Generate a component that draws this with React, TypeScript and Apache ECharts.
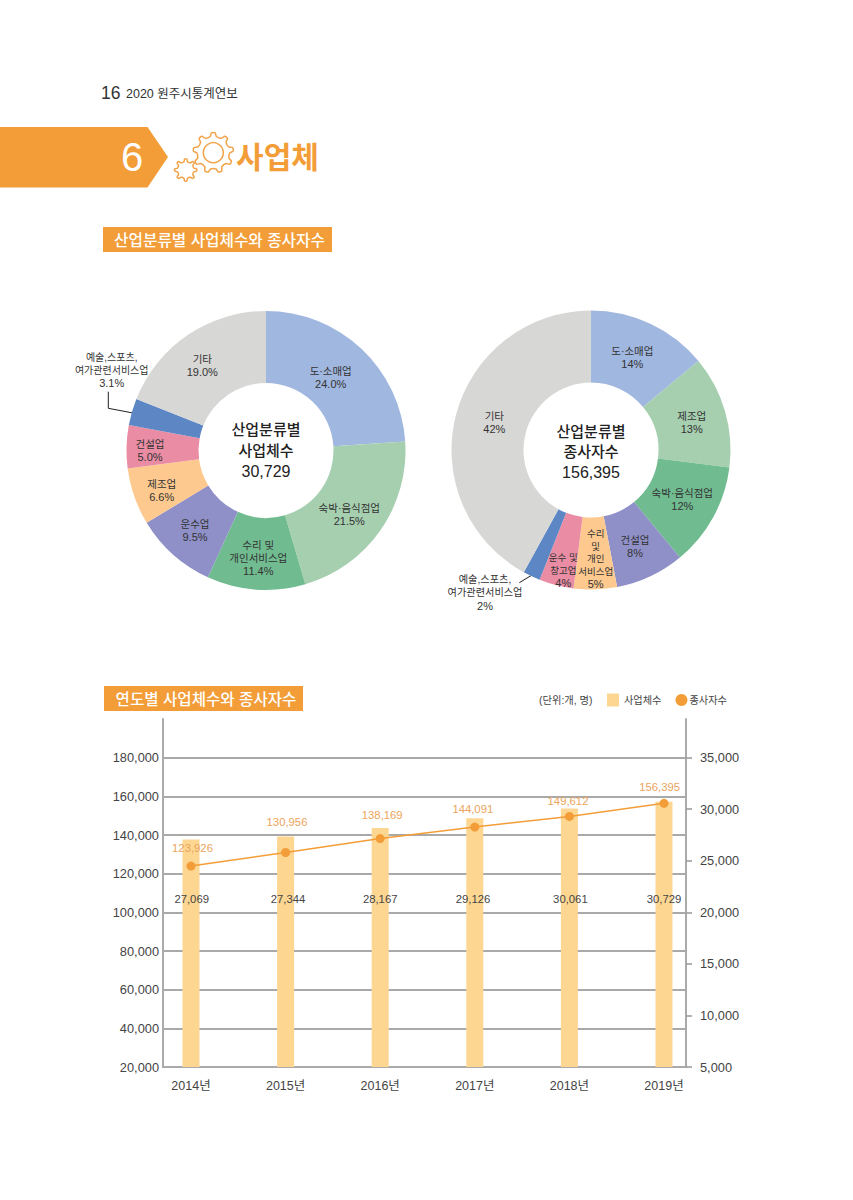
import React, { useEffect, useRef } from "react";
import * as echarts from "echarts";

const FONT = '"Liberation Sans", "Noto Sans CJK KR"';
const ORANGE = "#f29d38";

// Left donut
const bizNames = ["도·소매업", "숙박·음식점업", "수리 및\n개인서비스업", "운수업", "제조업", "건설업", "예술,스포츠,\n여가관련서비스업", "기타"];
const bizShares = [24.0, 21.5, 11.4, 9.5, 6.6, 5.0, 3.1, 19.0];
// Right donut
const workerNames = ["도·소매업", "제조업", "숙박·음식점업", "건설업", "수리\n및\n개인\n서비스업", "운수 및\n창고업", "예술,스포츠,\n여가관련서비스업", "기타"];
const workerShares = [14, 13, 12, 8, 5, 4, 2, 42];
const sliceColors = ["#a0b7df", "#a6cfb0", "#70bc90", "#8f90c8", "#fdc98e", "#e98ca4", "#5c86c4", "#d7d7d5"];

// Combo chart
const years = [2014, 2015, 2016, 2017, 2018, 2019];
const workers = [123926, 130956, 138169, 144091, 149612, 156395];
const businesses = [27069, 27344, 28167, 29126, 30061, 30729];
const rightTicks = [5000, 10000, 15000, 20000, 25000, 30000, 35000];

// Label anchors and nudges (layout only)
const bizLabelAt = [[330.7, 377.3], [349.3, 514], [258.3, 558.3], [195, 530.7], [161.7, 490.7], [150, 450], [111.7, 370], [202.3, 365.7]];
const workerLabelAt = [[632.3, 357.3], [691.7, 422.3], [682.3, 499], [635, 546], [595.7, 559], [563.3, 570], [485, 592.7], [494.3, 422.3]];
const lineLabelNudge = [[1.5, -1], [1.4, -13.5], [2, -6], [-2, -1], [-1.4, 2], [-4.4, 1]];
const barLabelNudge = [[0.7, 0], [2.4, 0], [0, 0], [-1.8, 0], [1, 0], [0, 0]];

function gear(cx: number, cy: number, n: number, R: number, r: number) {
  const pts: number[][] = [];
  const step = (Math.PI * 2) / n;
  for (let i = 0; i < n; i++) {
    const a = i * step - Math.PI / 2;
    [[-0.27, r], [-0.13, R], [0.13, R], [0.27, r]].forEach(([k, rad]) => {
      const t = a + k * step;
      pts.push([cx + rad * Math.cos(t), cy + rad * Math.sin(t)]);
    });
  }
  return pts;
}

function txt(text: string, x: number, y: number, fontSize: number, fill: string, align = "center", fontWeight: any = 400, lineHeight?: number) {
  return {
    type: "text", x, y, silent: true,
    style: { text, fontSize, fontWeight, fontFamily: FONT, fill, align, verticalAlign: "middle", textAlign: align, textVerticalAlign: "middle", lineHeight: lineHeight ?? fontSize * 1.2 },
  };
}

function pie(names: string[], values: number[], cx: number, cy: number, at: number[][], decimals: number, labelOverrides: Record<number, any>) {
  return {
    type: "pie", center: [cx, cy], radius: [67.5, 139.5], startAngle: 90, clockwise: true, silent: true,
    avoidLabelOverlap: false, labelLine: { show: false },
    label: {
      show: true, position: "inside", color: "#333", fontFamily: FONT, fontSize: 10.5, lineHeight: 13,
      formatter: (p: any) => `${p.name}\n{v|${p.value.toFixed(decimals)}%}`,
      rich: { v: { fontSize: 11, lineHeight: 13, color: "#333", fontFamily: FONT } },
    },
    labelLayout: (p: any) => ({ x: at[p.dataIndex][0], y: at[p.dataIndex][1], align: "center", verticalAlign: "middle" }),
    data: names.map((name, i) => ({
      name, value: values[i], itemStyle: { color: sliceColors[i] },
      label: labelOverrides[i],
    })),
  };
}

export default function App() {
  const ref = useRef<HTMLDivElement>(null);
  useEffect(() => {
    const chart = echarts.init(ref.current!, undefined, { renderer: "svg" });
    chart.setOption({
      animation: false,
      backgroundColor: "#fff",
      textStyle: { fontFamily: FONT },
      grid: { left: 163, width: 523, top: 719, height: 348, containLabel: false },
      legend: {
        left: 607, top: 693.5, itemWidth: 12, itemHeight: 13, itemGap: 14, selectedMode: false, padding: 0,
        textStyle: { fontFamily: FONT, fontSize: 10.2, color: "#444" },
        data: [
          { name: "사업체수", icon: "rect" },
          { name: "종사자수", icon: "circle", textStyle: { padding: [0, 0, 0, -3] } },
        ],
      },
      xAxis: {
        type: "value", min: 2013.704, max: 2019.2326, splitLine: { show: false },
        axisLine: { show: true, onZero: false, lineStyle: { color: "#aaa", width: 2 } },
        axisTick: { show: false },
        axisLabel: {
          customValues: years, margin: 13, color: "#444", fontFamily: FONT, fontSize: 12.5,
          formatter: (v: number) => `${v}년`,
        },
      },
      yAxis: [
        {
          type: "value", position: "left", min: 20000, max: 200000, interval: 20000,
          axisLine: { show: true, lineStyle: { color: "#aaa", width: 2 } }, axisTick: { show: false },
          splitLine: { show: true, showMaxLine: false, lineStyle: { color: "#8c8c8c", width: 1.5 } },
          axisLabel: {
            showMaxLabel: false, margin: 4, color: "#444", fontFamily: FONT, fontSize: 12.8,
            formatter: (v: number) => v.toLocaleString("en-US"),
          },
        },
        {
          type: "value", position: "right", min: 5000, max: 38750, splitLine: { show: false },
          axisLine: { show: true, lineStyle: { color: "#aaa", width: 2 } },
          axisTick: { show: true, length: 6, customValues: rightTicks, lineStyle: { color: "#999", width: 1.5 } },
          axisLabel: {
            customValues: rightTicks, margin: 14, color: "#444", fontFamily: FONT, fontSize: 12.8,
            formatter: (v: number) => v.toLocaleString("en-US"),
          },
        },
      ],
      series: [
        pie(bizNames, bizShares, 266, 450.5, bizLabelAt, 1, { 6: { fontSize: 10 } }),
        pie(workerNames, workerShares, 591, 450, workerLabelAt, 0, {
          4: { fontSize: 9.5, lineHeight: 12.5 },
          5: { fontSize: 9.5, lineHeight: 13 },
          6: { fontSize: 10.2 },
        }),
        {
          type: "bar", name: "사업체수", yAxisIndex: 1, barWidth: 17, silent: true,
          itemStyle: { color: "#fdd692" },
          label: {
            show: true, position: "insideBottom", distance: 162, color: "#444", fontFamily: FONT, fontSize: 11.3,
            formatter: (p: any) => p.value[1].toLocaleString("en-US"),
          },
          data: years.map((y, i) => ({ value: [y, businesses[i]], label: { offset: barLabelNudge[i] } })),
        },
        {
          type: "line", name: "종사자수", yAxisIndex: 0, symbol: "circle", symbolSize: 9, silent: true,
          itemStyle: { color: ORANGE }, lineStyle: { color: ORANGE, width: 1.5 },
          label: {
            show: true, position: "top", distance: 7, color: "#eba45c", fontFamily: FONT, fontSize: 11.3,
            formatter: (p: any) => p.value[1].toLocaleString("en-US"),
          },
          data: years.map((y, i) => ({ value: [y, workers[i]], label: { offset: lineLabelNudge[i] } })),
          z: 5,
        },
      ],
      graphic: [
        txt("16", 101, 93, 17.5, "#333", "left"),
        txt("2020 원주시통계연보", 126, 94, 12.5, "#333", "left"),
        { type: "polygon", silent: true, shape: { points: [[0, 127], [147.5, 127], [168, 157], [147.5, 187.5], [0, 187.5]] }, style: { fill: ORANGE } },
        txt("6", 132, 157, 40, "#fff"),
        { type: "polygon", silent: true, shape: { points: gear(213.3, 152.7, 9, 20, 16.5), smooth: 0.25 }, style: { fill: "none", stroke: "#f2a34a", lineWidth: 1.5 } },
        { type: "circle", silent: true, shape: { cx: 213.3, cy: 152.7, r: 10 }, style: { fill: "none", stroke: "#f2a34a", lineWidth: 1.5 } },
        { type: "polygon", silent: true, shape: { points: gear(185.7, 170, 8, 11, 8.5), smooth: 0.25 }, style: { fill: "none", stroke: "#f2a34a", lineWidth: 1.5 } },
        txt("사업체", 277.5, 157, 30, ORANGE, "center", 700),
        { type: "rect", silent: true, shape: { x: 103, y: 227, width: 229, height: 25 }, style: { fill: ORANGE } },
        txt("산업분류별 사업체수와 종사자수", 219.5, 240, 15.7, "#fff", "center", 500),
        { type: "rect", silent: true, shape: { x: 104, y: 686, width: 199, height: 25 }, style: { fill: ORANGE } },
        txt("연도별 사업체수와 종사자수", 206, 699, 15.6, "#fff", "center", 500),
        txt("(단위:개, 명)", 539, 700.5, 10.3, "#444", "left"),
        txt("산업분류별\n사업체수", 266, 440, 15, "#222", "center", 500, 20.5),
        txt("30,729", 266, 471, 16, "#222"),
        txt("산업분류별\n종사자수", 591, 441.5, 15, "#222", "center", 500, 20.5),
        txt("156,395", 591, 472, 16, "#222"),
        { type: "polyline", silent: true, shape: { points: [[108.3, 391.7], [108.3, 408.3], [138.3, 414]] }, style: { fill: "none", stroke: "#222", lineWidth: 1 } },
        { type: "polyline", silent: true, shape: { points: [[519.3, 582.7], [537, 572]] }, style: { fill: "none", stroke: "#222", lineWidth: 1 } },
      ],
    });
    return () => chart.dispose();
  }, []);
  return <div ref={ref} style={{ position: "absolute", left: 0, top: 0, width: 853, height: 1200 }} />;
}
